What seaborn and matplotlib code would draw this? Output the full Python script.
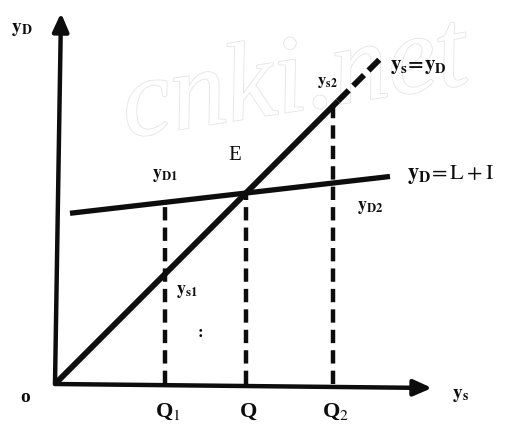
import matplotlib
matplotlib.use("Agg")
import matplotlib.pyplot as plt
import matplotlib.patheffects as pe
import numpy as np
import pandas as pd
import seaborn as sns

# output levels marked on the horizontal axis
Q_LABELS = ["Q$_1$", "Q", "Q$_2$"]
Q_VALUES = [110, 191, 278]

# aggregate demand yD = L + I (intercept, slope, drawn range)
DEMAND_INTERCEPT = 169
DEMAND_SLOPE = 0.115
DEMAND_RANGE = [15, 335]

# 45 degree line ys = yD: solid part, then dashed part
SUPPLY_SOLID = [0, 283]
SUPPLY_DASHED = [283, 325]

# axis lengths
X_AXIS_END = 377
Y_AXIS_END = 371

INK = "#0d0d0d"


def demand(y):
    return DEMAND_INTERCEPT + DEMAND_SLOPE * np.asarray(y, dtype=float)


sns.set_theme(style="white")
plt.rcParams["mathtext.fontset"] = "stix"
plt.rcParams["font.family"] = ["Liberation Serif", "DejaVu Serif"]

fig = plt.figure(figsize=(5.24, 4.26), dpi=100)
ax = fig.add_axes([0, 0, 1, 1])
ax.set_xlim(-55, 469)
ax.set_ylim(-42, 384)
ax.axis("off")

# faint watermark
ax.text(240, 300, "cnki.net", fontsize=80, style="italic", color="white",
        rotation=9, ha="center", va="center", zorder=0,
        path_effects=[pe.withStroke(linewidth=1.2, foreground="#e4e4e4")])

# axes with arrows
arrow = dict(arrowstyle="-|>,head_length=0.9,head_width=0.4", lw=3.2,
             color=INK, shrinkA=0, shrinkB=0)
ax.annotate("", xy=(X_AXIS_END, -4), xytext=(0, 0), arrowprops=arrow)
ax.annotate("", xy=(6, Y_AXIS_END), xytext=(0, 0), arrowprops=arrow)

# 45 degree line
solid = pd.DataFrame({"x": SUPPLY_SOLID, "y": SUPPLY_SOLID})
sns.lineplot(data=solid, x="x", y="y", ax=ax, color=INK, lw=4.2,
             solid_capstyle="butt")
dashed = pd.DataFrame({"x": SUPPLY_DASHED, "y": SUPPLY_DASHED})
sns.lineplot(data=dashed, x="x", y="y", ax=ax, color=INK, lw=4.2,
             dashes=False, linestyle=(0, (2.6, 1.1)))

# aggregate demand line
dem = pd.DataFrame({"x": DEMAND_RANGE, "y": demand(DEMAND_RANGE)})
sns.lineplot(data=dem, x="x", y="y", ax=ax, color=INK, lw=3.8,
             solid_capstyle="butt")

# vertical dashed guides
tops = [demand(Q_VALUES[0]), Q_VALUES[1], Q_VALUES[2]]
for q, top in zip(Q_VALUES, tops):
    ax.plot([q, q], [0, top], color=INK, lw=3.2, linestyle=(0, (3, 1.6)))

# labels
bold = dict(color=INK, ha="center", va="center")
for q, lab in zip(Q_VALUES, Q_LABELS):
    ax.text(q + 3, -28, lab, fontsize=16, fontweight="bold", **bold)

ax.text(-33, 354, r"$\mathbf{y_D}$", fontsize=14, **bold)
ax.text(-30, -13, "o", fontsize=14, fontweight="bold", **bold)
ax.text(405, -11, r"$\mathbf{y_s}$", fontsize=14, **bold)
ax.text(110, 209, r"$\mathbf{y_{D1}}$", fontsize=13, **bold)
ax.text(180, 229, "E", fontsize=15, **bold)
ax.text(315, 176, r"$\mathbf{y_{D2}}$", fontsize=13, **bold)
ax.text(132, 92, r"$\mathbf{y_{s1}}$", fontsize=13, **bold)
ax.text(272, 302, r"$\mathbf{y_{s2}}$", fontsize=12, **bold)
ax.text(145, 51, ":", fontsize=12, fontweight="bold", **bold)
ax.text(352, 209, r"$\mathbf{y_D}\!=\mathrm{L + I}$", fontsize=16,
        color=INK, ha="left", va="center")
ax.text(335, 317, r"$\mathbf{y_s\!=\!y_D}$", fontsize=15,
        color=INK, ha="left", va="center")

fig.savefig("out.png", dpi=100)
